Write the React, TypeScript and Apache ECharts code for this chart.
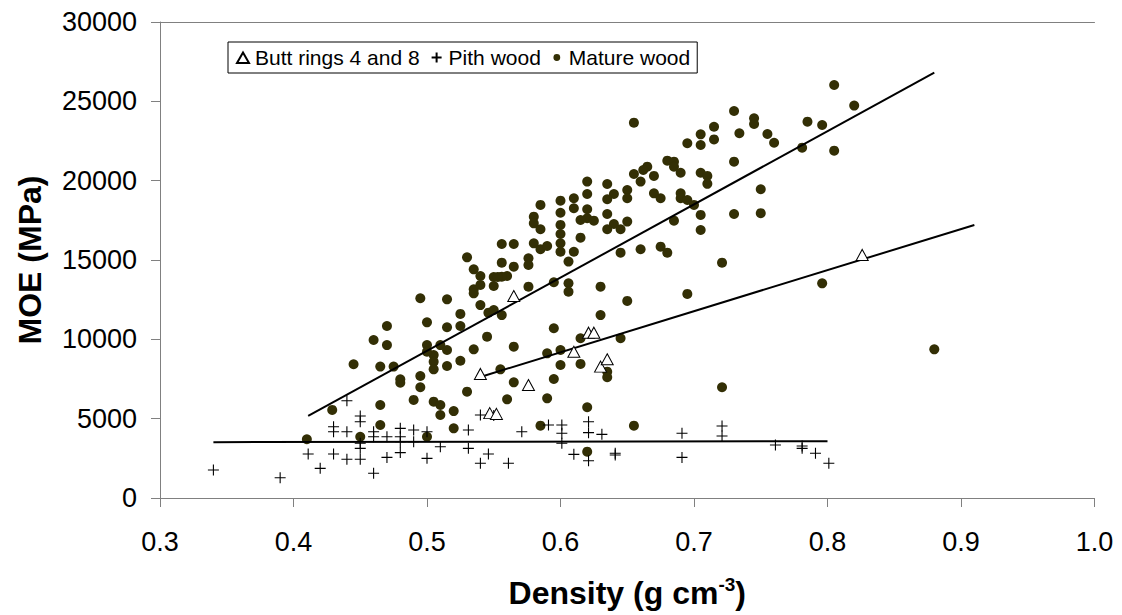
import React, { useEffect, useRef } from "react";
import * as echarts from "echarts";

const xTicks = { min: 0.3, max: 1.0, interval: 0.1 };
const yTicks = { min: 0, max: 30000, interval: 5000 };

const seriesNames = ["Butt rings 4 and 8", "Pith wood", "Mature wood"];

const buttRings: number[][] = [
  [0.54, 7820], [0.547, 5350], [0.552, 5300], [0.565, 12730], [0.576, 7120],
  [0.61, 9220], [0.621, 10420], [0.625, 10420], [0.63, 8280], [0.635, 8740],
  [0.826, 15320],
];

const pithWood: number[][] = [
  [0.34, 1760], [0.39, 1280], [0.411, 2770], [0.42, 1870], [0.43, 2770],
  [0.43, 4490], [0.43, 4180], [0.44, 4180], [0.44, 2440], [0.44, 6130],
  [0.45, 5170], [0.45, 4810], [0.45, 3450], [0.45, 3130], [0.45, 2440],
  [0.46, 4180], [0.46, 3860], [0.46, 1560], [0.47, 3860], [0.47, 2560],
  [0.48, 4390], [0.48, 3860], [0.48, 3550], [0.48, 2860], [0.49, 4290],
  [0.49, 3550], [0.5, 4180], [0.5, 2500], [0.51, 3230], [0.531, 4290],
  [0.531, 3130], [0.54, 5230], [0.546, 2770], [0.54, 2190], [0.561, 2190],
  [0.571, 4180], [0.55, 5200], [0.591, 4600], [0.601, 4600], [0.601, 4080],
  [0.601, 3450], [0.621, 4810], [0.621, 4120], [0.631, 4010], [0.691, 4080],
  [0.721, 4540], [0.721, 3910], [0.61, 2750], [0.621, 2350], [0.641, 2820],
  [0.641, 2710], [0.691, 2560], [0.761, 3340], [0.781, 3280], [0.781, 3130],
  [0.791, 2820], [0.801, 2190],
];

const matureWood: number[][] = [
  [0.655, 23655], [0.73, 24390], [0.734, 22990], [0.715, 23400], [0.715, 22600],
  [0.705, 22920], [0.705, 22250], [0.695, 22360], [0.73, 21200], [0.68, 21260],
  [0.685, 21200], [0.685, 20880], [0.665, 20880], [0.662, 20670], [0.655, 20420],
  [0.66, 19940], [0.67, 20300], [0.69, 20500], [0.705, 20500], [0.71, 20300],
  [0.71, 19800], [0.73, 17900], [0.705, 17840], [0.705, 16890], [0.69, 19200],
  [0.69, 18890], [0.695, 18780], [0.7, 18470], [0.685, 17480], [0.67, 19200],
  [0.675, 18890], [0.65, 19410], [0.65, 18890], [0.64, 19160], [0.635, 19790],
  [0.635, 18830], [0.635, 17900], [0.64, 17270], [0.635, 16940], [0.645, 16940],
  [0.65, 17420], [0.62, 19940], [0.62, 19160], [0.62, 18200], [0.62, 17630],
  [0.615, 17520], [0.625, 17480], [0.61, 18890], [0.61, 18260], [0.6, 18740],
  [0.6, 17980], [0.6, 17210], [0.6, 16640], [0.6, 16050], [0.6, 15520],
  [0.615, 16410], [0.61, 15520], [0.585, 18470], [0.58, 17730], [0.58, 17310],
  [0.585, 16940], [0.58, 16050], [0.585, 15680], [0.59, 15880], [0.565, 16010],
  [0.556, 16010], [0.576, 15110], [0.606, 14900], [0.645, 15460], [0.66, 15680],
  [0.675, 15840], [0.68, 15460], [0.721, 14830],
  [0.805, 26030], [0.82, 24730], [0.745, 23930], [0.745, 23570], [0.755, 22940],
  [0.76, 22390], [0.785, 23720], [0.796, 23510], [0.781, 22080], [0.805, 21890],
  [0.75, 19460], [0.75, 17950],
  [0.556, 14830], [0.565, 14580], [0.576, 14690], [0.56, 13990], [0.556, 13950],
  [0.576, 13320], [0.595, 13600], [0.606, 13530], [0.606, 13000], [0.63, 13320],
  [0.695, 12860], [0.65, 12420], [0.556, 11530], [0.63, 11530], [0.595, 10700],
  [0.615, 10070], [0.645, 10070], [0.565, 9540], [0.59, 9120], [0.6, 9330],
  [0.555, 8110], [0.6, 8380], [0.615, 8450], [0.635, 7960], [0.635, 7610],
  [0.565, 7290], [0.595, 7500], [0.56, 6220], [0.59, 6280], [0.721, 6980],
  [0.62, 5720], [0.585, 4560], [0.655, 4560],
  [0.53, 15170], [0.535, 14410], [0.54, 13990], [0.55, 13930], [0.553, 13930],
  [0.535, 13150], [0.535, 12900], [0.54, 13430], [0.55, 13360], [0.495, 12590],
  [0.515, 12520], [0.54, 12160], [0.546, 11680], [0.55, 11850], [0.525, 11600],
  [0.47, 10840], [0.5, 11070], [0.515, 10760], [0.525, 10840], [0.46, 9960],
  [0.545, 10170],
  [0.47, 9640], [0.5, 9640], [0.51, 9640], [0.515, 9330], [0.535, 9370],
  [0.505, 9010], [0.505, 8590], [0.505, 8110], [0.5, 9220], [0.515, 8320],
  [0.525, 8650], [0.445, 8430], [0.465, 8280], [0.475, 8280], [0.48, 7480],
  [0.48, 7270], [0.495, 7690], [0.495, 6980], [0.53, 6700], [0.49, 6180],
  [0.505, 6070], [0.51, 5860], [0.51, 5230], [0.52, 5480], [0.52, 4390],
  [0.429, 5550], [0.465, 5860], [0.465, 4600], [0.45, 3860], [0.5, 3860],
  [0.41, 3700],
  [0.62, 2920], [0.88, 9370], [0.796, 13530],
];

const matureTrend: number[][] = [[0.411, 5170], [0.88, 26810]];
const buttTrend: number[][] = [[0.54, 7630], [0.91, 17210]];
const pithTrend: number[][] = [[0.34, 3520], [0.8, 3580]];

const FONT = "'Liberation Sans', Arial, Helvetica, sans-serif";
const PLUS = "path://M5,0 L5,10 M0,5 L10,5";
const SMALL_DOT = "path://M0,0 M12,12 M6,2.6 A3.4,3.4 0 1 1 6,9.4 A3.4,3.4 0 1 1 6,2.6 Z";
const LEGEND_TRI = "path://M0,0 M14,12 M7,1 L13,11.5 L1,11.5 Z";
const LEGEND_PLUS = "path://M0,0 M12,12 M6,1 L6,11 M1,6 L11,6";

export default function App() {
  const ref = useRef<HTMLDivElement>(null);
  useEffect(() => {
    if (!ref.current) return;
    const chart = echarts.init(ref.current, undefined, { renderer: "svg" });
    const axisLine = { show: true, lineStyle: { color: "#808080", width: 1 } };
    const trend = (data: number[][]) => ({
      type: "line",
      data,
      symbol: "none",
      silent: true,
      lineStyle: { color: "#000", width: 2 },
      z: 3,
    });
    chart.setOption({
      animation: false,
      backgroundColor: "#fff",
      textStyle: { fontFamily: FONT },
      grid: { left: 160, right: 27.5, top: 22, bottom: 117, containLabel: false },
      legend: {
        data: [
          { name: seriesNames[0], icon: LEGEND_TRI },
          { name: seriesNames[1], icon: LEGEND_PLUS },
          { name: seriesNames[2], icon: SMALL_DOT },
        ],
        left: 228,
        top: 42,
        orient: "horizontal",
        padding: [5, 7, 5, 7],
        itemGap: 10,
        itemWidth: 14,
        itemHeight: 12,
        borderColor: "#000",
        borderWidth: 1,
        textStyle: { fontSize: 21, color: "#000", fontFamily: FONT },
      },
      xAxis: [
        {
          type: "value",
          min: xTicks.min,
          max: xTicks.max,
          interval: xTicks.interval,
          axisLine,
          axisTick: { show: true, length: 9, lineStyle: { color: "#808080" } },
          splitLine: { show: false },
          axisLabel: {
            fontSize: 27,
            color: "#000",
            fontFamily: FONT,
            margin: 30,
            formatter: (v: number) => v.toFixed(1),
          },
          name: "{a|Density (g cm}{s|-3}{a|)}",
          nameLocation: "middle",
          nameGap: 77,
          nameTextStyle: {
            rich: {
              a: { fontSize: 32, fontWeight: "bold", color: "#000", fontFamily: FONT, lineHeight: 36 },
              s: { fontSize: 19, fontWeight: "bold", color: "#000", fontFamily: FONT, verticalAlign: "top" },
            },
          },
        },
        {
          type: "value",
          position: "top",
          min: xTicks.min,
          max: xTicks.max,
          axisLine,
          axisTick: { show: false },
          axisLabel: { show: false },
          splitLine: { show: false },
        },
      ],
      yAxis: {
        type: "value",
        min: yTicks.min,
        max: yTicks.max,
        interval: yTicks.interval,
        axisLine,
        axisTick: { show: true, length: 9, lineStyle: { color: "#808080" } },
        splitLine: { show: false },
        axisLabel: {
          fontSize: 27,
          color: "#000",
          fontFamily: FONT,
          margin: 23,
          formatter: (v: number) => String(v),
        },
        name: "MOE (MPa)",
        nameLocation: "middle",
        nameRotate: 90,
        nameGap: 114,
        nameTextStyle: { fontSize: 32, fontWeight: "bold", color: "#000", fontFamily: FONT },
      },
      series: [
        {
          name: seriesNames[2],
          type: "scatter",
          data: matureWood,
          symbol: "circle",
          symbolSize: 10,
          itemStyle: { color: "#332f05", opacity: 1 },
          z: 2,
        },
        {
          name: seriesNames[1],
          type: "scatter",
          data: pithWood,
          symbol: PLUS,
          symbolSize: 11,
          itemStyle: { color: "#000", borderColor: "#000", borderWidth: 1.1, opacity: 1 },
          z: 2,
        },
        trend(matureTrend),
        trend(buttTrend),
        trend(pithTrend),
        {
          name: seriesNames[0],
          type: "scatter",
          data: buttRings,
          symbol: "triangle",
          symbolSize: [12, 11],
          itemStyle: { color: "#fff", borderColor: "#000", borderWidth: 1, opacity: 1 },
          z: 4,
        },
      ],
    });
    return () => chart.dispose();
  }, []);
  return (
    <div
      ref={ref}
      style={{ position: "fixed", left: 0, top: 0, width: 1122, height: 615, background: "#fff" }}
    />
  );
}
